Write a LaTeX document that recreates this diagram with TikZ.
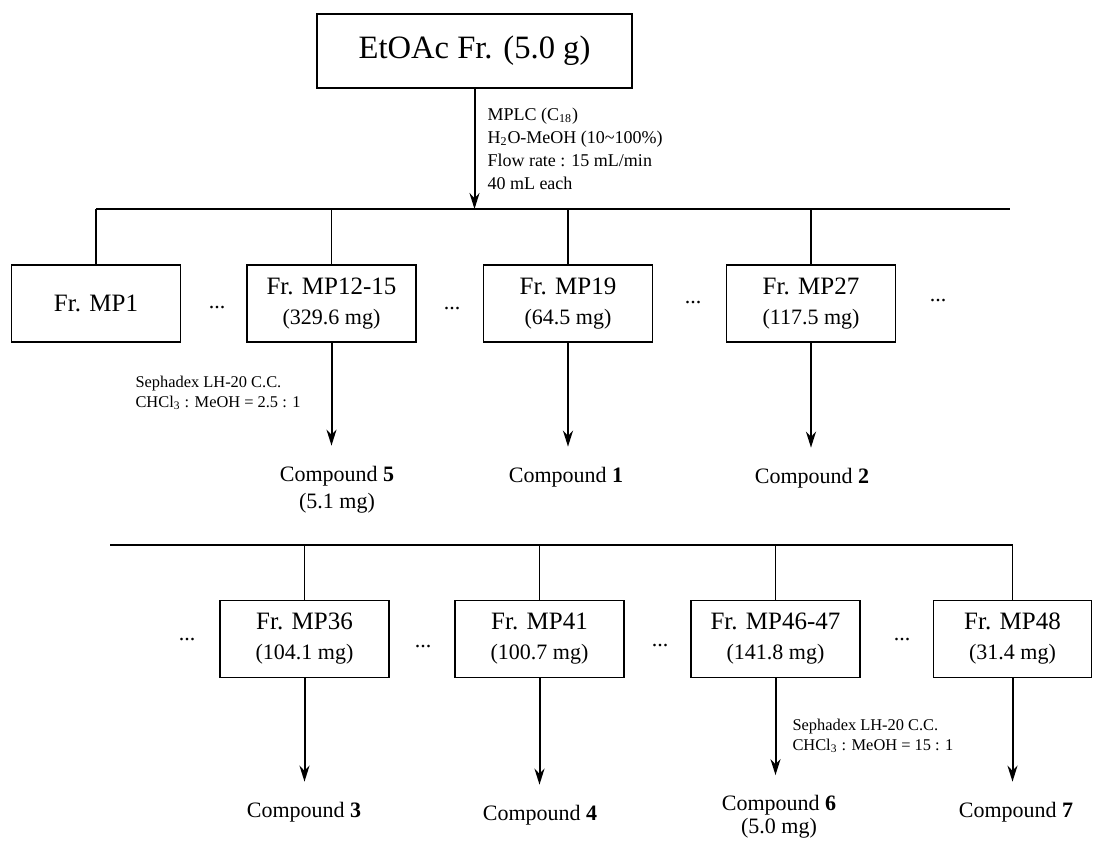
\documentclass[tikz,border=0pt]{standalone}
\usepackage{fontspec}
\setmainfont{Liberation Serif}
\usetikzlibrary{arrows.meta,positioning}
\tikzset{
  >={Stealth[length=8pt,width=5pt]},
  topbox/.style={draw,line width=0.8pt,minimum width=157.5pt,minimum height=37pt,
    inner sep=2pt,font=\fontsize{16.3}{19}\selectfont},
  frbox/.style={draw,line width=0.8pt,minimum width=84.5pt,minimum height=38.5pt,
    inner sep=1pt,align=center,font=\fontsize{12.5}{15}\selectfont},
  cpd/.style={align=center,inner sep=1pt,font=\fontsize{11}{13.5}\selectfont},
  gapdots/.style={inner sep=0pt,font=\fontsize{11}{13}\selectfont},
  bar/.style={line width=1pt},
  stem/.style={line width=0.65pt},
  flow/.style={->,line width=1pt,shorten >=9pt},
  condlbl/.style={align=left,inner sep=0pt,font=\fontsize{8.2}{10}\selectfont},
  mplclbl/.style={align=left,inner sep=0pt,font=\fontsize{9}{11.5}\selectfont},
}
\newcommand{\frmass}[1]{\\{\fontsize{11}{13}\selectfont(#1 mg)}}

\begin{document}
\begin{tikzpicture}[x=0.5pt,y=-0.5pt]
  \useasboundingbox (0,0) rectangle (1094,843);
  \node[topbox] (etoac) at (474.5,51) {EtOAc Fr. (5.0 g)};
  \coordinate (bar1) at (474.5,209);
  \coordinate (bar1e) at (1010,209);
  \coordinate (bar2s) at (110,545);

  % first row of fractions
  \node[frbox] (mp1) at (96,303.5) {Fr. MP1};
  \foreach \nm/\xx/\ttl/\mg in {mp12/331.5/MP12-15/329.6,mp19/568/MP19/64.5,
      mp27/811/MP27/117.5} {
    \node[frbox] (\nm) at (\xx,303.5) {Fr. \ttl\frmass{\mg}};
  }
  % second row of fractions
  \foreach \nm/\xx/\ttl/\mg in {mp36/304.5/MP36/104.1,mp41/539.5/MP41/100.7,
      mp46/775.5/MP46-47/141.8} {
    \node[frbox] (\nm) at (\xx,639) {Fr. \ttl\frmass{\mg}};
  }
  \node[frbox,minimum width=79pt] (mp48) at (1012.5,639) {Fr. MP48\frmass{31.4}};

  \foreach \xx/\yy [count=\k] in {217/307,452/308,693/303,938/300,
      187/639,423/646,660/645,902/639} {
    \node[gapdots] (gap\k) at (\xx,\yy) {...};
  }

  % compounds
  \node[cpd] (cpd5) at (337,489.5) {Compound \textbf{5}\\(5.1 mg)};
  \node[cpd] (cpd1) at (566,477) {Compound \textbf{1}};
  \node[cpd] (cpd2) at (812,478) {Compound \textbf{2}};
  \node[cpd] (cpd3) at (304,812) {Compound \textbf{3}};
  \node[cpd] (cpd4) at (540,815) {Compound \textbf{4}};
  \node[cpd] (cpd6) at (779,817) {Compound \textbf{6}\\[-2pt](5.0 mg)};
  \node[cpd] (cpd7) at (1016,812) {Compound \textbf{7}};

  \draw[flow,shorten >=0pt] (etoac) -- node[mplclbl,right,xshift=6pt]
    {MPLC (C\textsubscript{18})\\H\textsubscript{2}O-MeOH (10\textasciitilde100\%)\\
     Flow rate : 15 mL/min\\40 mL each} (bar1);
  \draw[bar] (mp1.north |- bar1) -- (bar1e);
  \foreach \n in {mp1,mp12,mp19,mp27} {
    \draw[stem] (\n.north) -- (\n.north |- bar1);
  }
  \draw[bar] (bar2s) -- (bar2s -| mp48.north);
  \foreach \n in {mp36,mp41,mp46,mp48} {
    \draw[stem] (\n.north) -- (\n.north |- bar2s);
  }

  \draw[flow] (mp12) -- node[condlbl,left,xshift=-15pt,yshift=5pt]
    {Sephadex LH-20 C.C.\\CHCl\textsubscript{3} : MeOH = 2.5 : 1} (mp12 |- cpd5.north);
  \draw[flow] (mp19) -- (mp19 |- cpd1.north);
  \draw[flow] (mp27) -- (mp27 |- cpd2.north);
  \draw[flow] (mp36) -- (mp36 |- cpd3.north);
  \draw[flow] (mp41) -- (mp41 |- cpd4.north);
  \draw[flow] (mp46) -- node[condlbl,right,xshift=8pt]
    {Sephadex LH-20 C.C.\\CHCl\textsubscript{3} : MeOH = 15 : 1} (mp46 |- cpd6.north);
  \draw[flow] (mp48) -- (mp48 |- cpd7.north);
\end{tikzpicture}
\end{document}
